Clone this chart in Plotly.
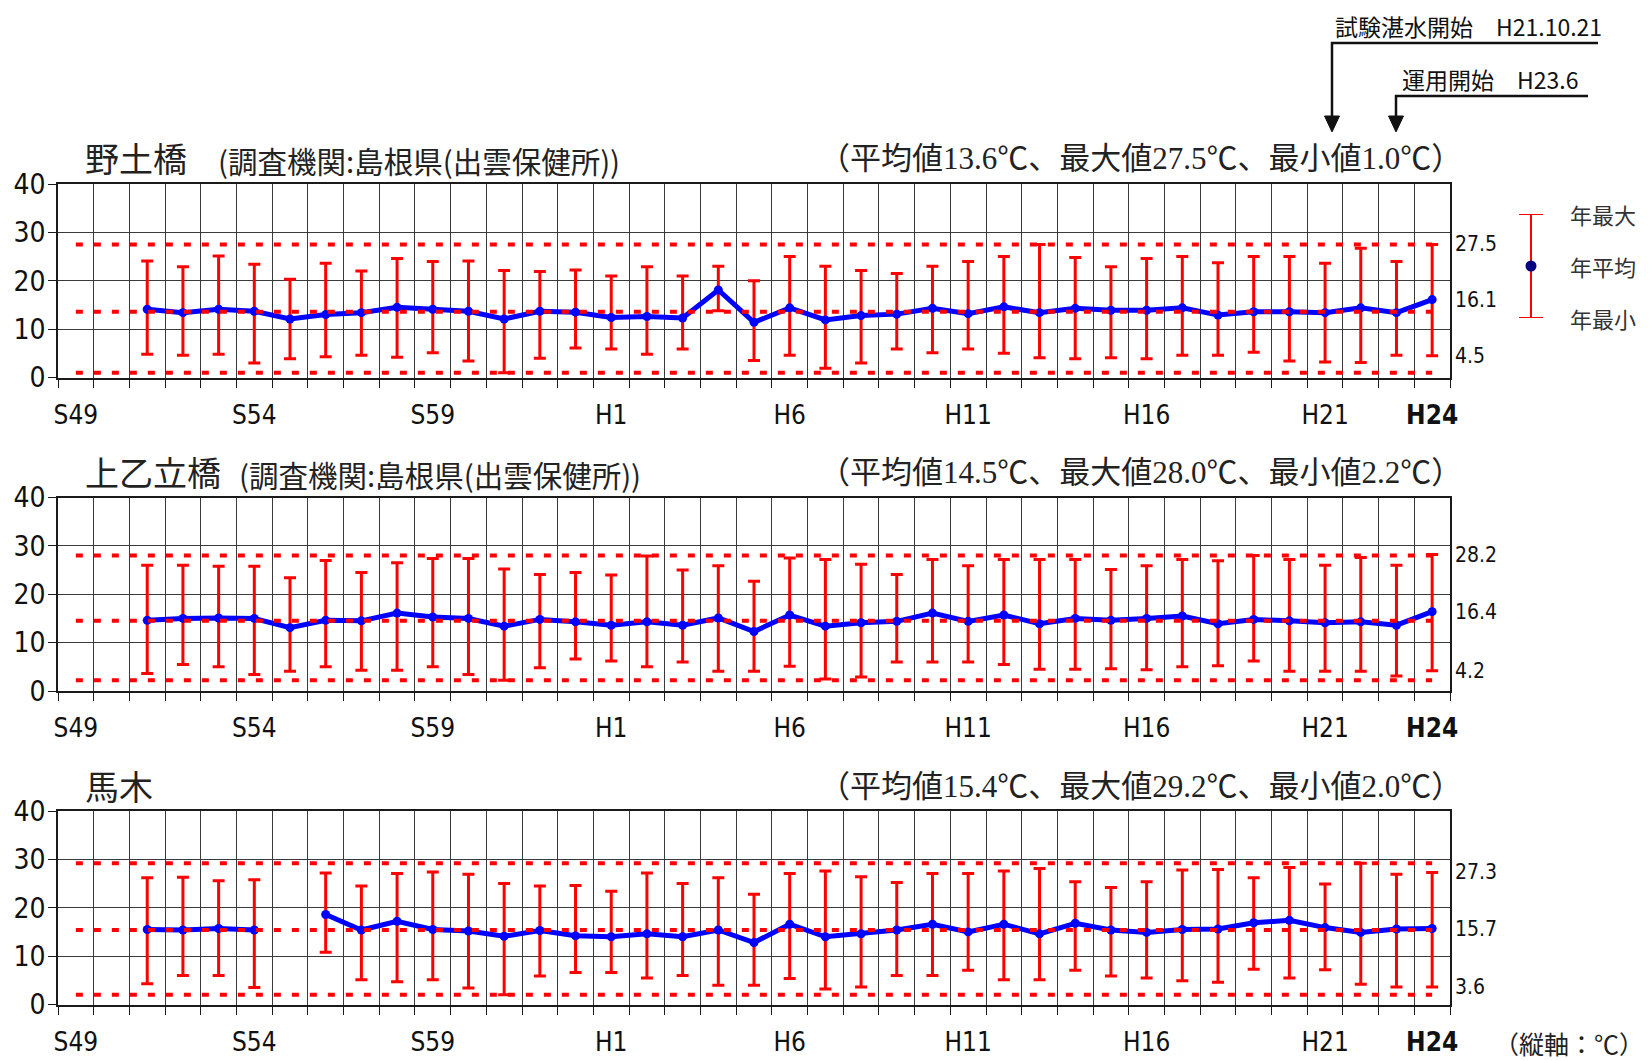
import plotly.graph_objects as go

W, H = 1650, 1061

# ---------------- data ----------------
years = [f"S{y}" for y in range(49, 64)] + [f"H{y}" for y in range(1, 25)]
shown_years = ["S49", "S54", "S59", "H1", "H6", "H11", "H16", "H21", "H24"]

stations = ["野土橋", "上乙立橋", "馬木"]
agencies = ["(調査機関:島根県(出雲保健所))", "(調査機関:島根県(出雲保健所))", ""]

overall_avg = [13.6, 14.5, 15.4]
overall_max = [27.5, 28.0, 29.2]
overall_min = [1.0, 2.2, 2.0]

nodo_max = [None, None,
            24.1, 22.9, 25.1, 23.4, 20.3, 23.6, 22.0, 24.6, 24.0, 24.1, 22.1, 21.9,
            22.2, 21.0, 22.9, 21.0, 23.0, 20.0, 25.0, 23.0, 22.1, 21.5, 23.0, 24.0, 25.0, 27.5, 24.8,
            22.9, 24.6, 25.0, 23.7, 25.0, 25.0, 23.6, 26.7, 24.0, 27.5]
nodo_mean = [None, None,
             14.1, 13.4, 14.1, 13.7, 12.1, 13.0, 13.4, 14.5, 14.1, 13.7, 12.1, 13.7,
             13.5, 12.4, 12.6, 12.3, 18.1, 11.4, 14.4, 11.9, 12.8, 13.1, 14.3, 13.2, 14.6, 13.4, 14.3,
             13.9, 13.9, 14.4, 12.9, 13.6, 13.6, 13.4, 14.4, 13.4, 16.1]
nodo_min = [None, None,
            4.8, 4.6, 4.8, 3.0, 3.9, 4.3, 4.6, 4.2, 5.1, 3.4, 1.0, 4.0,
            6.1, 5.9, 4.8, 5.9, 13.8, 3.5, 4.6, 1.9, 3.0, 5.9, 5.1, 5.9, 5.0, 4.1, 3.9,
            4.1, 3.9, 4.6, 4.6, 5.2, 3.4, 3.2, 3.1, 4.6, 4.5]

kami_max = [None, None,
            26.0, 26.0, 25.8, 25.8, 23.4, 27.0, 24.5, 26.5, 27.4, 27.4, 25.2, 24.1,
            24.5, 24.0, 27.9, 25.0, 25.9, 22.7, 27.5, 27.2, 26.2, 24.1, 27.2, 25.9, 27.2, 27.2, 27.2,
            25.1, 25.9, 27.2, 26.9, 28.0, 27.2, 26.0, 27.6, 26.0, 28.2]
kami_mean = [None, None,
             14.6, 15.0, 15.1, 15.0, 13.1, 14.6, 14.5, 16.1, 15.3, 15.0, 13.4, 14.8,
             14.3, 13.6, 14.3, 13.6, 15.1, 12.3, 15.7, 13.4, 14.1, 14.4, 16.1, 14.4, 15.7, 13.9, 15.0,
             14.6, 15.0, 15.5, 13.9, 14.8, 14.5, 14.1, 14.3, 13.6, 16.4]
kami_min = [None, None,
            3.6, 5.5, 5.0, 3.4, 4.1, 5.0, 4.3, 4.3, 5.0, 3.4, 2.2, 4.8,
            6.6, 6.2, 5.0, 6.0, 4.1, 4.1, 5.1, 2.5, 2.9, 6.0, 6.0, 6.0, 5.5, 4.5, 4.5,
            4.6, 4.4, 5.0, 5.2, 6.2, 4.1, 4.1, 4.1, 3.1, 4.2]

maki_max = [None, None,
            26.2, 26.3, 25.6, 25.8, None, 27.2, 24.5, 27.1, 27.4, 26.9, 25.0, 24.5,
            24.6, 23.4, 27.2, 25.0, 26.2, 22.8, 27.1, 27.6, 26.4, 25.2, 27.1, 27.1, 27.6, 28.1, 25.4,
            24.2, 25.4, 27.8, 27.9, 26.2, 28.3, 24.9, 29.2, 26.9, 27.3]
maki_mean = [None, None,
             15.5, 15.4, 15.7, 15.4, None, 18.6, 15.4, 17.2, 15.5, 15.2, 14.1, 15.3,
             14.2, 14.0, 14.6, 14.0, 15.4, 12.8, 16.6, 14.0, 14.6, 15.4, 16.6, 15.0, 16.6, 14.6, 16.8,
             15.4, 14.9, 15.5, 15.6, 16.9, 17.4, 15.9, 14.9, 15.6, 15.7]
maki_min = [None, None,
            4.3, 6.0, 6.0, 3.5, None, 10.8, 5.1, 4.7, 5.1, 3.4, 2.0, 5.9,
            6.6, 6.6, 5.5, 6.0, 4.0, 4.0, 5.4, 3.2, 3.6, 6.0, 6.0, 7.1, 5.1, 5.1, 7.1,
            5.9, 5.5, 4.9, 4.6, 7.3, 5.5, 7.2, 4.2, 3.6, 3.6]

series_max = [nodo_max, kami_max, maki_max]
series_mean = [nodo_mean, kami_mean, maki_mean]
series_min = [nodo_min, kami_min, maki_min]

legend_labels = ["年最大", "年平均", "年最小"]
events = ["試験湛水開始　H21.10.21", "運用開始　H23.6"]

# ---------------- style ----------------
SANS_JP = "Noto Sans CJK JP, sans-serif"
NARROW = "Liberation Sans Narrow, DejaVu Sans Condensed, Roboto Condensed, Arial Narrow, sans-serif"
RED = "#FF0000"
BLUE = "#0000FF"
GRID = "#3a3a3a"
AXIS = "#1a1a1a"

PAGE_OFF = 8  # page body margin; positions below are page pixel positions


def px(x):
    return (x - PAGE_OFF) / W


def py(y):
    return 1 - (y - PAGE_OFF) / H


def serif_num(v):
    return f"<span style='font-family:Liberation Serif'>{v:.1f}</span>"


PLOT_L, PLOT_R = 58, 1450
PANEL_TOPS = [184, 497.5, 811]
PANEL_H = 193.5

fig = go.Figure()
xs = list(range(len(years)))
tickvals = [years.index(s) for s in shown_years]
ticktext = [f"<b>{s}</b>" if s == "H24" else s for s in shown_years]

annotations = []
shapes = []

for i in range(3):
    n = "" if i == 0 else str(i + 1)
    xa, ya = "x" + n, "y" + n
    mx, mn, av = series_max[i], series_mean[i], series_min[i]
    plus = [None if (a is None or m is None) else round(a - m, 2) for a, m in zip(mx, mn)]
    minus = [None if (b is None or m is None) else round(m - b, 2) for b, m in zip(av, mn)]
    fig.add_trace(go.Scatter(
        x=xs, y=mn, xaxis=xa, yaxis=ya, mode="lines+markers",
        line=dict(color=BLUE, width=5), marker=dict(color=BLUE, size=9),
        connectgaps=False, showlegend=False,
        error_y=dict(type="data", symmetric=False, array=plus, arrayminus=minus,
                     color=RED, thickness=3, width=6),
    ))
    for v in (overall_max[i], overall_avg[i], overall_min[i]):
        fig.add_trace(go.Scatter(
            x=[xs[0], xs[-1]], y=[v, v], xaxis=xa, yaxis=ya, mode="lines",
            line=dict(color=RED, width=4, dash="7px,11px"), showlegend=False,
            hoverinfo="skip",
        ))

    top = PANEL_TOPS[i]
    bot = top + PANEL_H
    fig.update_layout(**{
        "xaxis" + n: dict(
            domain=[px(PLOT_L), px(PLOT_R)], anchor=ya, range=[-0.5, len(years) - 0.5],
            tickmode="array", tickvals=tickvals, ticktext=ticktext, ticks="",
            showgrid=False, zeroline=False, showline=True, linecolor=AXIS, linewidth=2,
            mirror=True, ticklabelstandoff=13, automargin=False,
            tickfont=dict(family=NARROW, size=26, color="#111"),
            minor=dict(tick0=-0.5, dtick=1, showgrid=True, gridcolor=GRID, gridwidth=1,
                       ticks="outside", ticklen=8, tickcolor=AXIS, tickwidth=1),
        ),
        "yaxis" + n: dict(
            domain=[py(bot), py(top)], anchor=xa, range=[0, 40], dtick=10,
            showgrid=True, gridcolor=GRID, gridwidth=1, zeroline=False,
            showline=True, linecolor=AXIS, linewidth=1.5, mirror=True,
            ticks="outside", ticklen=8, tickcolor=AXIS, automargin=False,
            tickfont=dict(family=NARROW, size=28, color="#111"),
            ticklabelstandoff=-3,
        ),
    })

    # titles
    ty = top - 26
    annotations.append(dict(xref="paper", yref="paper", x=px(83), y=py(ty),
                            xanchor="left", yanchor="middle", showarrow=False,
                            text=stations[i], font=dict(family=SANS_JP, size=34, color="#222")))
    if agencies[i]:
        annotations.append(dict(xref="paper", yref="paper", x=px(216 if i == 0 else 237), y=py(ty + 2),
                                xanchor="left", yanchor="middle", showarrow=False,
                                text=agencies[i], font=dict(family=SANS_JP, size=29.5, color="#222")))
    stat = (f"（平均値{serif_num(overall_avg[i])}℃、最大値{serif_num(overall_max[i])}℃、"
            f"最小値{serif_num(overall_min[i])}℃）")
    annotations.append(dict(xref="paper", yref="paper", x=px(1464), y=py(ty - 2),
                            xanchor="right", yanchor="middle", showarrow=False,
                            text=stat, font=dict(family=SANS_JP, size=31, color="#222")))
    # last-year value labels on right
    for v in (mx[-1], mn[-1], av[-1]):
        annotations.append(dict(xref="paper", yref=ya, x=px(PLOT_R + 3), y=v,
                                xanchor="left", yanchor="middle", showarrow=False,
                                text=f"{v:.1f}", font=dict(family=NARROW, size=21, color="#111")))

# ---------------- legend (drawn as a mini error-bar point) ----------------
fig.add_trace(go.Scatter(
    x=[0], y=[0], xaxis="x4", yaxis="y4", mode="markers",
    marker=dict(color="#000080", size=11), showlegend=False, hoverinfo="skip",
    error_y=dict(type="data", symmetric=True, array=[1], color=RED, thickness=2, width=12),
))
fig.update_layout(
    xaxis4=dict(domain=[px(1511), px(1551)], anchor="y4", range=[-1, 1], visible=False,
                automargin=False),
    yaxis4=dict(domain=[py(318), py(214)], anchor="x4", range=[-1, 1], visible=False,
                automargin=False),
)
for lab, yv in zip(legend_labels, [1, 0, -1]):
    annotations.append(dict(xref="paper", yref="y4", x=px(1568), y=yv, xanchor="left",
                            yanchor="middle", showarrow=False, text=lab,
                            font=dict(family=SANS_JP, size=22, color="#333")))

# ---------------- event arrows ----------------
ev_geo = [  # text_x, text_y, line_y, arrow_x, line_end_x
    (1334, 26, 43, 1332, 1598),
    (1401, 79, 96, 1396, 1588),
]
for txt, (tx, tyy, ly, lx0, lx1) in zip(events, ev_geo):
    annotations.append(dict(xref="paper", yref="paper", x=px(tx), y=py(tyy), xanchor="left",
                            yanchor="middle", showarrow=False, text=txt, borderpad=0,
                            font=dict(family=SANS_JP, size=23, color="#111")))
    shapes.append(dict(type="path", xref="paper", yref="paper",
                       path=f"M {px(lx1)},{py(ly)} L {px(lx0)},{py(ly)} L {px(lx0)},{py(118)}",
                       line=dict(color="#111", width=2.5)))
    shapes.append(dict(type="path", xref="paper", yref="paper",
                       path=f"M {px(lx0 - 7.5)},{py(116)} L {px(lx0 + 7.5)},{py(116)} L {px(lx0)},{py(132)} Z",
                       fillcolor="#111", line=dict(color="#111", width=1)))

annotations.append(dict(xref="paper", yref="paper", x=px(1646), y=py(1043), xanchor="right",
                        yanchor="middle", showarrow=False, text="（縦軸：℃）",
                        font=dict(family=SANS_JP, size=25, color="#222")))

fig.update_layout(
    width=W, height=H, margin=dict(l=0, r=0, t=0, b=0, autoexpand=False),
    paper_bgcolor="white", plot_bgcolor="white",
    annotations=annotations, shapes=shapes, showlegend=False,
)

fig.write_html("out.html")
